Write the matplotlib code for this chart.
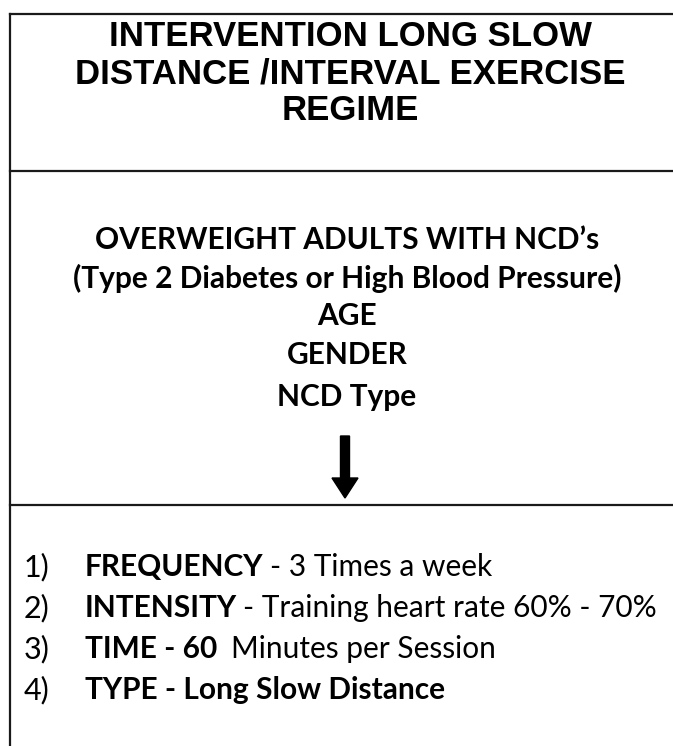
import matplotlib
matplotlib.use("Agg")
import matplotlib.pyplot as plt

# Textos del diagrama
titulo = ["INTERVENTION LONG SLOW", "DISTANCE /INTERVAL EXERCISE", "REGIME"]
participantes = [
    "OVERWEIGHT ADULTS WITH NCD\u2019s",
    "(Type 2 Diabetes or High Blood Pressure)",
    "AGE",
    "GENDER",
    "NCD Type",
]
numeros = ["1)", "2)", "3)", "4)"]
etiquetas = ["FREQUENCY", "INTENSITY", "TIME - 60", "TYPE - Long Slow Distance"]
detalles = ["- 3 Times a week", "- Training heart rate 60% - 70%", "Minutes per Session", ""]

W, H = 673, 746
fig = plt.figure(figsize=(W / 100, H / 100), dpi=100)
ax = fig.add_axes([0, 0, 1, 1])
ax.set_xlim(0, W)
ax.set_ylim(H, 0)
ax.axis("off")

# Bordes
borde = dict(color="#1a1a1a", linewidth=1.6)
ax.plot([10, 10], [14, H], **borde)
ax.plot([10, W], [14, 14], **borde)
ax.plot([10, W], [171, 171], **borde)
ax.plot([10, W], [505, 505], **borde)

# Titulo
for i, linea in enumerate(titulo):
    ax.text(350, 36 + i * 37.5, linea, ha="center", va="center", fontsize=25,
            fontweight="bold", family="Liberation Sans", color="black")

# Bloque del medio
ys_medio = [240, 278, 316, 355, 397]
for linea, y in zip(participantes, ys_medio):
    ax.text(347, y, linea, ha="center", va="center", fontsize=21.5,
            fontweight="bold", family="Lato", color="black")

# Flecha
ax.arrow(345, 436, 0, 62, width=9, head_width=26, head_length=20,
         length_includes_head=True, color="black")

# Lista
renderer = fig.canvas.get_renderer()
inv = ax.transData.inverted()
huecos = [6, 6, 14, 0]
for i, (num, etq, det) in enumerate(zip(numeros, etiquetas, detalles)):
    y = 567 + i * 41
    ax.text(24, y, num, ha="left", va="center", fontsize=22, family="Lato", color="black")
    t = ax.text(85, y, etq, ha="left", va="center", fontsize=21.5, fontweight="bold",
                family="Lato", color="black")
    if det:
        bb = t.get_window_extent(renderer)
        x_fin = inv.transform((bb.x1, bb.y0))[0]
        ax.text(x_fin + huecos[i], y, det, ha="left", va="center", fontsize=21.5,
                family="Lato", color="black")

fig.savefig("out.png", dpi=100)
